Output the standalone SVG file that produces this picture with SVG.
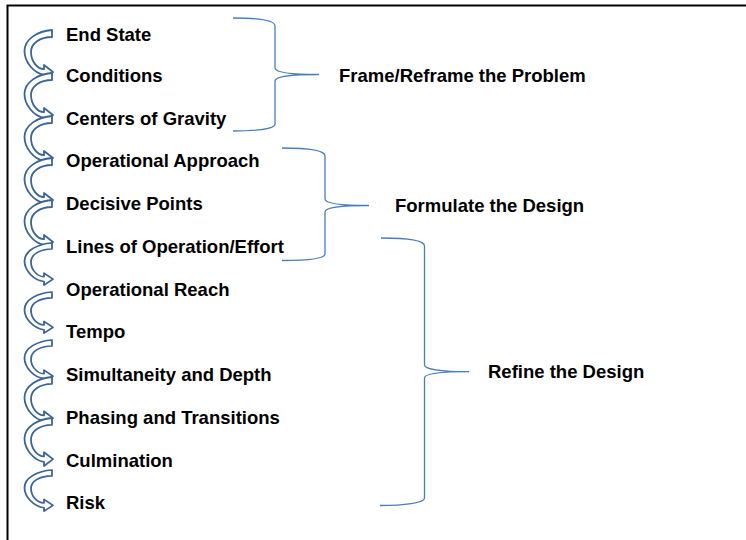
<svg xmlns="http://www.w3.org/2000/svg" width="746" height="540" viewBox="0 0 746 540">
  <style>
    .frame { fill: none; stroke: #000000; stroke-width: 2; }
    .item { font-family: "Liberation Sans", Arial, sans-serif; font-weight: bold; font-size: 18.5px; fill: #000000; }
    .arrow { fill: #ffffff; stroke: #3a6596; stroke-width: 1.8; stroke-linejoin: round; }
    .brace { fill: none; stroke: #4a7ebb; stroke-width: 1.3; }
  </style>
  <defs>
    <!-- curved right arrow, top end at y=0, tip at y=42 -->
    <path id="curl" d="M52,0 C38,1 24.5,9 24.5,21 C24.5,32 34,43.5 44,44.8 L44,49 L53,42 L44,35 L44,39.2 C37,39 31,31 31,22 C31,13 40,7.2 52,7 Z"/>
  </defs>

  <rect width="746" height="540" fill="#ffffff"/>
  <path class="frame" d="M7.5,540 V5.5 H746"/>

  <g id="connectors">
    <use href="#curl" class="arrow" transform="translate(0,30)"/>
    <use href="#curl" class="arrow" transform="translate(0,73)"/>
    <use href="#curl" class="arrow" transform="translate(0,116)"/>
    <use href="#curl" class="arrow" transform="translate(0,158)"/>
    <use href="#curl" class="arrow" transform="translate(0,200)"/>
    <use href="#curl" class="arrow" transform="translate(0,243) scale(1,0.86)"/>
    <use href="#curl" class="arrow" transform="translate(0,292) scale(1,0.84)"/>
    <use href="#curl" class="arrow" transform="translate(0,340) scale(1,0.86)"/>
    <use href="#curl" class="arrow" transform="translate(0,377) scale(1,0.98)"/>
    <use href="#curl" class="arrow" transform="translate(0,418) scale(1,0.98)"/>
    <use href="#curl" class="arrow" transform="translate(0,470) scale(1,0.84)"/>

    <!-- braces -->
    <path class="brace" d="M233,18 C256,18 275,20 275,26 V68 C275,72 290,74.5 319,74.5 C290,74.5 275,77 275,81 V124 C275,129 256,131 233,131"/>
    <path class="brace" d="M282,148 C305,148 325,150 325,156 V199 C325,203 340,205.5 369,205.5 C340,205.5 325,208 325,212 V254 C325,259 305,260.5 282,260.5"/>
    <path class="brace" d="M381,238 C404,238 424.5,240 424.5,246 V365 C424.5,369 440,371.7 469,371.7 C440,371.7 424.5,374 424.5,378 V498 C424.5,503 404,505.5 380,505.5"/>
  </g>

  <g id="end-state"><text class="item" x="66" y="40.5">End State</text></g>
  <g id="conditions"><text class="item" x="66" y="82">Conditions</text></g>
  <g id="centers-of-gravity"><text class="item" x="66" y="124.5">Centers of Gravity</text></g>
  <g id="operational-approach"><text class="item" x="66" y="167">Operational Approach</text></g>
  <g id="decisive-points"><text class="item" x="66" y="210">Decisive Points</text></g>
  <g id="lines-of-operation"><text class="item" x="66" y="252.5">Lines of Operation/Effort</text></g>
  <g id="operational-reach"><text class="item" x="66" y="295.5">Operational Reach</text></g>
  <g id="tempo"><text class="item" x="66" y="338">Tempo</text></g>
  <g id="simultaneity"><text class="item" x="66" y="381">Simultaneity and Depth</text></g>
  <g id="phasing"><text class="item" x="66" y="423.5">Phasing and Transitions</text></g>
  <g id="culmination"><text class="item" x="66" y="466.5">Culmination</text></g>
  <g id="risk"><text class="item" x="66" y="509">Risk</text></g>

  <g id="frame-problem"><text class="item" x="339" y="81.5">Frame/Reframe the Problem</text></g>
  <g id="formulate-design"><text class="item" x="395" y="212">Formulate the Design</text></g>
  <g id="refine-design"><text class="item" x="488" y="378">Refine the Design</text></g>
</svg>
